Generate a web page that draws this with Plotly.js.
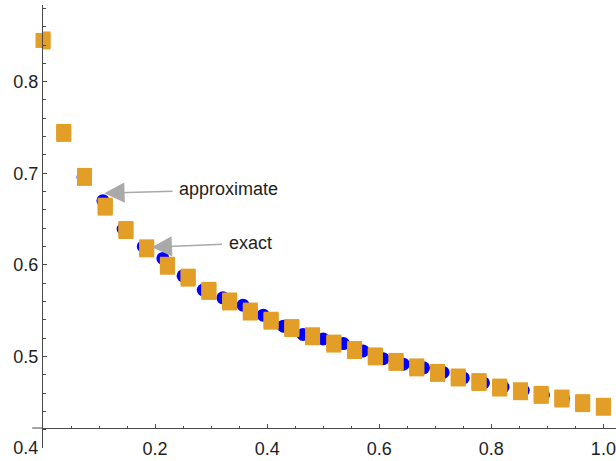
<!DOCTYPE html>
<html>
<head>
<meta charset="utf-8">
<script src="https://cdn.plot.ly/plotly-3.0.1.min.js"></script>
<style>
  html, body { margin: 0; padding: 0; background: #ffffff; }
  #chart { width: 616px; height: 461px; }
</style>
</head>
<body>
<div id="chart"></div>
<script>
// "exact" series (blue circles)
const xExact = [0, 0.036, 0.0714, 0.107, 0.143, 0.179, 0.214, 0.25, 0.286, 0.321,
                0.357, 0.393, 0.429, 0.464, 0.5, 0.536, 0.571, 0.607, 0.643, 0.679,
                0.714, 0.75, 0.786, 0.821, 0.857, 0.893, 0.929, 0.964, 1.0];
const yExact = [0.844, 0.745, 0.696, 0.670, 0.639, 0.620, 0.607, 0.588, 0.5725, 0.564,
                0.556, 0.545, 0.533, 0.524, 0.519, 0.514, 0.506, 0.4975, 0.4915, 0.4875,
                0.4825, 0.4765, 0.471, 0.4665, 0.463, 0.458, 0.454, 0.449, 0.445];

// "approximate" series (orange squares)
const xApprox = [0, 0.037, 0.074, 0.111, 0.148, 0.185, 0.222, 0.259, 0.296, 0.333,
                 0.370, 0.407, 0.444, 0.481, 0.519, 0.556, 0.593, 0.630, 0.667, 0.704,
                 0.741, 0.778, 0.815, 0.852, 0.889, 0.926, 0.963, 1.0];
const yApprox = [0.845, 0.744, 0.696, 0.6635, 0.638, 0.618, 0.599, 0.586, 0.5715, 0.560,
                 0.549, 0.539, 0.531, 0.522, 0.514, 0.507, 0.500, 0.494, 0.488, 0.482,
                 0.477, 0.472, 0.466, 0.462, 0.458, 0.454, 0.449, 0.445];

// tick labels
const xTickVals = [0.2, 0.4, 0.6, 0.8, 1.0];
const xTickText = ["0.2", "0.4", "0.6", "0.8", "1.0"];
const yTickVals = [0.4, 0.5, 0.6, 0.7, 0.8];
const yTickText = ["0.4", "0.5", "0.6", "0.7", "0.8"];

// labels
const labelApprox = "approximate";
const labelExact = "exact";

const BLUE = "#0000ff";
const ORANGE = "#e29e26";
const ARROW = "#a9a9a9";
const TXT = "#1e1e1e";
const AXIS = "#4a4a4a";
const FONT = "Liberation Sans, Arial, sans-serif";

const traces = [
  {
    type: "scatter", mode: "markers", x: xExact, y: yExact, name: labelExact,
    cliponaxis: false,
    marker: { symbol: "circle", size: 13, color: BLUE, line: { width: 0 } },
    hoverinfo: "skip"
  },
  {
    type: "scatter", mode: "markers", x: xApprox, y: yApprox, name: labelApprox,
    cliponaxis: false,
    marker: { symbol: "square", size: 15, color: ORANGE, line: { width: 0 } },
    error_y: { type: "constant", value: 0.0098, thickness: 15, width: 0, color: ORANGE },
    hoverinfo: "skip"
  }
];

const layout = {
  width: 616, height: 461,
  margin: { l: 43, r: 0, t: 5, b: 13, pad: 0 },
  paper_bgcolor: "#ffffff", plot_bgcolor: "#ffffff",
  showlegend: false,
  font: { family: FONT, size: 18, color: TXT },
  xaxis: {
    range: [0, 1.0225],
    anchor: "free", position: 0.0451,
    showline: true, linecolor: AXIS, linewidth: 1,
    showgrid: false, zeroline: false,
    tickmode: "array", tickvals: xTickVals, ticktext: xTickText,
    ticks: "inside", ticklen: 4, tickcolor: AXIS, tickwidth: 1,
    ticklabelstandoff: 4,
    minor: { tickmode: "linear", tick0: 0, dtick: 0.05, ticks: "inside", ticklen: 2.5, tickcolor: AXIS, showgrid: false },
    tickfont: { family: FONT, size: 18, color: TXT }
  },
  yaxis: {
    range: [0.4, 0.8837],
    showline: true, linecolor: AXIS, linewidth: 1,
    showgrid: false, zeroline: false,
    tickmode: "array", tickvals: yTickVals, ticktext: yTickText,
    ticks: "inside", ticklen: 4, tickcolor: AXIS, tickwidth: 1,
    minor: { tickmode: "linear", tick0: 0, dtick: 0.02, ticks: "inside", ticklen: 2.5, tickcolor: AXIS, showgrid: false },
    tickfont: { family: FONT, size: 18, color: TXT }
  },
  shapes: [
    { type: "line", xref: "paper", yref: "paper", x0: -0.019, x1: 0, y0: 0.0451, y1: 0.0451,
      line: { color: AXIS, width: 1 } }
  ],
  annotations: [
    {
      text: labelApprox, x: 0.1094, y: 0.6782, xref: "x", yref: "y",
      ax: 0.331, ay: 0.6823, axref: "x", ayref: "y",
      showarrow: true, arrowhead: 2, arrowsize: 2.7, arrowwidth: 1.5, arrowcolor: ARROW,
      borderpad: 6, font: { family: FONT, size: 18, color: TXT }
    },
    {
      text: labelExact, x: 0.194, y: 0.6192, xref: "x", yref: "y",
      ax: 0.3694, ay: 0.6239, axref: "x", ayref: "y",
      showarrow: true, arrowhead: 2, arrowsize: 2.7, arrowwidth: 1.5, arrowcolor: ARROW,
      borderpad: 6, font: { family: FONT, size: 18, color: TXT }
    }
  ]
};

Plotly.newPlot("chart", traces, layout, { staticPlot: true, displayModeBar: false });
</script>
</body>
</html>
